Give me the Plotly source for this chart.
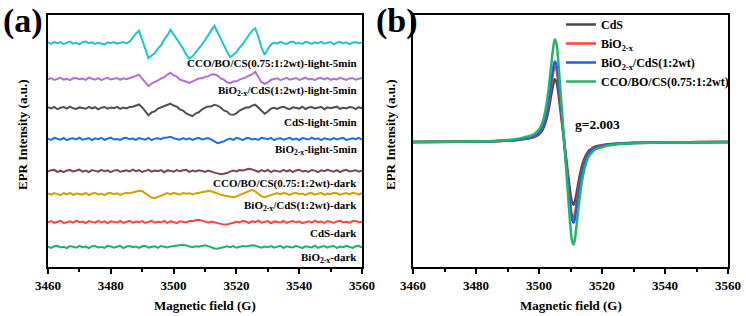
import plotly.graph_objects as go

# ---------------- Panel (a): stacked EPR spectra (1 G steps) ----------------
field_a = list(range(3460, 3561))

cco_light = [0.5, -0.8, 1.2, -0.3, 0.9, -1.1, 0.4, 1.4, -0.6, 0.2, -1.3, 0.8, 1.5, -0.2, 0.6, -0.9, 0.3, -0.5, -1.4, 0.7,
             -0.1, 1.0, -0.7, 0.2, 0.9, -0.4,
             1.3, 5.4, 9.6, 12.2, 2.5, -7.6, -15.2, -12.5, -10.4, -5.6, -2.3, 3.4, 7.6, 13.3, 8.5, 4.4, -1.3, -5.5, -11.4,
             -15.8, -13.3, -9.5, -6.4, -1.6, 2.7, 8.4, 12.6, 17.2, 10.6, 4.5, -3.3, -8.6, -14.2, -11.6, -9.4, -4.6, -1.3,
             3.5, 7.6, 12.4, 14.7, 6.3, -4.6, -11.8, -6.3, -1.6, 0.4,
             -0.6, 1.1, 0.3, -1.2, 0.8, 1.4, -0.4, 0.1, -0.9, 1.2, 0.5, -1.0, 0.7, -0.3, 1.3, -0.7, 0.2, 0.9, -1.3, 0.4,
             1.1, -0.5, 0.6, -1.1, 0.3, 1.0, -0.2, 0.5]
bo_cs_light = [-0.4, 0.9, -1.0, 0.3, 1.2, -0.6, 0.1, -1.2, 0.7, 1.0, -0.3, 0.5, -0.9, 1.3, 0.2, -0.7, 0.8, -1.1, 0.4, 1.1,
               -0.5, 0.0, 0.9, -0.8, 0.6, -0.2, 1.0,
               1.6, 3.2, 4.3, 0.4, -3.6, -7.2, -4.6, -3.3, -1.5, 0.6, 1.7, 4.4, 6.2, 3.6, 2.4, -0.5, -1.6, -3.4, -3.8, -2.4,
               -0.6, 0.5, 0.7, 2.3, 2.6, 4.5, 4.7, 3.4, 0.6, -0.7, -3.3, -4.2, -2.6, -2.3, -0.6, 0.4, 1.6, 3.3, 4.6, 7.2,
               1.7, -3.2, -4.8, -3.4, -0.7, 0.3,
               0.8, -1.1, 0.4, 1.2, -0.6, -0.1, 1.0, -0.9, 0.5, 1.3, -0.4, 0.2, -1.2, 0.7, 0.9, -0.3, 1.1, -0.8, 0.3, -0.5,
               1.2, 0.0, -1.0, 0.6, 0.8, -0.7, 0.4, 1.0]
cds_light = [0.7, -0.5, 1.1, -1.2, 0.2, 0.9, -0.7, 1.4, -0.3, -1.0, 0.6, 0.1, -0.8, 1.2, -0.4, 0.8, -1.3, 0.3, 1.0, -0.6,
             0.5, -0.1, 1.2, -0.9, 0.4, -0.5, 1.0, 1.2,
             2.4, 3.5, 0.6, -3.6, -7.3, -4.4, -3.4, -0.6, 0.5, 1.6, 3.4, 4.3, 2.5, 1.4, -1.3, -2.6, -5.4, -6.6, -8.2, -5.5,
             -4.3, -1.6, 0.4, 1.5, 1.6, 3.3, 2.4, 0.5, -2.5, -3.6, -6.4, -6.8, -5.3, -2.6, -1.4, 0.5, 0.6, 2.4, 3.3, 0.4,
             -3.3, -5.8, -3.5, -0.6, 0.2,
             -0.9, 0.6, 1.3, -0.2, -1.1, 0.8, 0.3, -0.6, 1.2, -1.0, 0.5, 0.9, -0.4, 0.1, 1.1, -1.2, 0.7, -0.3, 0.4, 1.3,
             -0.8, 0.2, -0.5, 1.0, 0.6, -1.1, 0.8, -0.2]
bo_light = [0.3, -0.9, 1.2, 0.5, -0.6, 1.0, -1.2, 0.2, 0.8, -0.4, 1.3, -0.7, 0.1, 0.9, -1.1, 0.6, -0.2, 1.1, -0.8, 0.4,
            1.4, -0.5, 0.0, -1.0, 0.7, 1.2, -0.3, 0.5, -0.9, 1.0, 0.3, -0.6, 1.1, -1.2, 0.4, 0.8, -0.1, 1.3,
            1.6, 2.3, 0.8, 0.2, -0.7, 0.9, -0.4, 0.6, -1.0, 0.3, 1.1, -0.5, 0.4, 0.9, -0.6, -2.3, -4.1, -3.2, -2.4, -0.6,
            0.5, -0.8, 1.2, 0.3, -1.1, 0.7, 1.0, -0.4, 0.2, -0.9, 1.3, 0.6, -0.3, 1.1, -1.2, 0.4, 0.8, -0.6, 0.1, 1.2,
            -0.7, 0.5, -1.0, 0.9, 0.3, -0.5, 1.4, -0.2, 0.6, -1.1, 0.8, 0.2, -0.7, 1.0, -0.4, 0.5, 1.2, -0.9, 0.3, 0.7,
            -0.2, 1.1, -0.6]
cco_dark = [-0.5, 0.8, 1.1, -0.9, 0.3, -1.2, 0.6, 1.0, -0.4, 0.2, 1.3, -0.7, 0.5, -1.0, 0.9, 0.1, -0.6, 1.2, -0.3, 0.7,
            -1.1, 0.4, 1.0, -0.8, 0.2, 0.6, -0.5, 1.3, -0.2, 0.8, -1.0, 0.3, 1.1, -0.7, 0.5, -0.1, 0.9, -1.2, 0.6, 0.2,
            -0.6, 1.0, -0.3, 0.7, 1.2, -0.9, 0.4, -0.4, 0.8, 0.1, -1.0, 0.5, -0.8,
            -1.6, -2.4, -3.2, -2.8, -2.1, -0.6, 0.4, -0.5, 1.0, 0.6, 1.4, 2.2, 1.6, 0.3, -0.8, 0.9, -0.4, 1.1, -1.1, 0.5,
            0.2, -0.7, 1.2, -0.3, 0.8, -1.0, 0.6, 1.3, -0.5, 0.1, -0.9, 1.0, 0.4, -1.2, 0.7, -0.2, 1.1, 0.3, -0.6, 0.9,
            -1.1, 0.5, 1.2, -0.4, 0.0, 0.8, -0.7, 0.6]
bo_cs_dark = [0.6, -0.7, 1.0, 0.2, -1.1, 0.8, -0.3, 1.2, -0.9, 0.4, 0.1, -0.6, 1.1, -1.0, 0.5, 0.9, -0.4, 0.3, -1.2, 0.7,
              1.0, -0.2, 0.6, -0.8, 0.4, 1.2,
              0.8, 1.6, 2.4, 3.2, 2.8, 0.9, -1.6, -3.6, -4.1, -2.8, -1.5, 0.2, 0.9, -0.4, 1.1, 0.3, -0.6, 1.0, 0.2, 0.8,
              -0.5, 0.6, 1.2, 1.6, 2.2, 3.1, 2.7, 1.4, 0.2, -0.6, -1.4, -2.2, -3.1, -3.3, -2.4, -1.0, 0.4, 1.8, 3.2, 4.1,
              2.6, 0.4, -2.4, -3.2, -2.1, -0.8, 0.3,
              0.9, -0.5, 1.1, 0.2, -0.9, 0.6, 1.3, -0.3, 0.4, -1.1, 0.8, 1.0, -0.6, 0.2, 1.2, -0.8, 0.5, -0.2, 1.1, 0.7,
              -1.0, 0.3, 0.9, -0.4, 1.2, 0.6, -0.7, 1.0]
cds_dark = [-0.3, 1.0, -0.8, 0.5, 1.2, -1.1, 0.2, 0.7, -0.6, 1.3, -0.2, 0.4, -1.0, 0.9, 0.1, -0.7, 1.1, -0.4, 0.6, -1.2,
            0.8, 0.3, -0.5, 1.0, -0.9, 0.2, 1.2, -0.6, 0.5, -0.1, 0.9, -1.0, 0.4, 1.1, -0.7, 0.3, -0.3, 1.2, -0.8, 0.6,
            0.0, -1.1, 0.8, 0.4, -0.5, 1.0,
            0.9, 1.8, 2.3, 1.4, 0.2, -0.6, 0.5, -0.3, -1.2, -2.1, -2.6, -2.4, -1.9, -0.8, 0.3,
            -0.4, 1.1, 0.5, -1.0, 0.8, -0.2, 1.3, -0.7, 0.3, 0.9, -1.2, 0.6, 0.1, -0.5, 1.2, -0.9, 0.4, 1.0, -0.3, 0.7,
            -1.1, 0.2, 0.8, -0.6, 1.4, -0.1, 0.5, -0.8, 1.0, 0.3, -1.0, 0.6, 1.2, -0.4, 0.2, -0.7, 0.9, 1.1, -0.5, 0.4]
bo_dark = [0.4, -0.9, 0.7, 1.1, -0.5, 0.2, -1.2, 0.9, 0.3, -0.6, 1.2, -0.2, 0.5, -1.0, 0.8, 1.0, -0.4, 0.1, -0.8, 1.3,
           0.6, -0.7, 0.2, 1.1, -1.1, 0.5, 0.9, -0.3, 0.4, -1.0, 0.7, 1.2, -0.6, 0.0, 0.8, -0.9, 1.0, 0.3, -0.4, 0.6, 1.1,
           0.9, 1.6, 2.3, 1.5, 0.4, -0.3, 0.8, 0.2, 1.0, 1.8, 0.9, -0.6, -1.5, -1.8, -1.2, -0.4, 0.6, -0.2, 0.9, -0.8,
           0.3, 1.0, 0.5, 1.2, 1.8, 1.3, 0.2, -0.7, 0.5, -0.3,
           1.0, -0.6, 0.4, 1.2, -1.0, 0.7, 0.1, -0.5, 1.1, 0.3, -1.2, 0.8, 0.5, -0.4, 1.3, -0.8, 0.2, 0.9, -0.7, 0.6,
           1.0, -1.1, 0.4, -0.2, 1.2, 0.3, -0.9, 0.7, 1.1, -0.5]

series_a = [cco_light, bo_cs_light, cds_light, bo_light, cco_dark, bo_cs_dark, cds_dark, bo_dark]
labels_a = ["CCO/BO/CS(0.75:1:2wt)-light-5min", "BiO<sub>2-x</sub>/CdS(1:2wt)-light-5min", "CdS-light-5min",
            "BiO<sub>2-x</sub>-light-5min", "CCO/BO/CS(0.75:1:2wt)-dark", "BiO<sub>2-x</sub>/CdS(1:2wt)-dark",
            "CdS-dark", "BiO<sub>2-x</sub>-dark"]
offsets_a = [224, 188, 159, 128, 96, 73, 45, 20]
label_y_a = [204, 176, 145, 117, 84, 61, 34, 9]
colors_a = ["#1fc6c6", "#b070dc", "#505050", "#1a6ee8", "#7a4848", "#d4a000", "#ff4444", "#22b06a"]

for s in series_a:
    assert len(s) == len(field_a), len(s)

# ---------------- Panel (b): EPR derivative spectra ----------------
field_b = [3460, 3470, 3480, 3485, 3490, 3492, 3494, 3496, 3498, 3499, 3500, 3501, 3502, 3503, 3503.5, 3504, 3504.5,
           3505, 3505.5, 3506, 3506.5, 3507, 3507.5, 3508, 3508.5, 3509, 3509.5, 3510, 3510.5, 3511, 3511.5, 3512,
           3513, 3514, 3515, 3516, 3517, 3518, 3520, 3522, 3525, 3530, 3540, 3550, 3560]
cds_b = [0, 0.1, 0.3, 0.6, 1.3, 1.6, 2.2, 3.2, 4.4, 5.7, 7.6, 11.3, 18.9, 31.5, 40.3, 49.1, 57.3, 62.7, 60.5, 52.3,
         39.7, 26.5, 13.2, 0, -13.2, -26.5, -39.7, -52.3, -60.5, -62.7, -58.0, -49.8, -32.8, -20.2, -12.6, -8.2, -6.0,
         -4.4, -3.2, -2.2, -1.4, -0.8, -0.3, -0.1, 0]
bio_b = [0, 0.2, 0.4, 0.8, 1.5, 1.9, 2.7, 3.8, 5.3, 6.8, 9.1, 13.7, 22.8, 38.0, 48.6, 59.3, 69.2, 75.6, 73.0, 63.1,
         47.9, 31.9, 16.0, 0, -16.0, -31.9, -47.9, -63.1, -73.0, -75.6, -69.9, -60.0, -39.5, -24.3, -15.2, -9.9, -7.2,
         -5.3, -3.8, -2.7, -1.7, -0.9, -0.4, -0.2, 0]
bio_cds_b = [0, 0.2, 0.4, 0.8, 1.6, 2.0, 2.8, 4.1, 5.7, 7.3, 9.7, 14.6, 24.3, 40.5, 51.8, 63.2, 73.7, 80.6, 77.8, 67.2,
             51.0, 34.0, 17.0, 0, -17.0, -34.0, -51.0, -67.2, -77.8, -80.6, -74.5, -64.0, -42.1, -25.9, -16.2, -10.5,
             -7.7, -5.7, -4.1, -2.8, -1.8, -1.0, -0.4, -0.2, 0]
cco_b = [0, 0.2, 0.5, 1.0, 2.1, 2.6, 3.6, 5.2, 7.2, 9.3, 12.4, 18.5, 30.9, 51.5, 65.9, 80.3, 93.7, 102.5, 98.9, 85.5,
         64.9, 43.3, 21.6, 0, -21.6, -43.3, -64.9, -85.5, -98.9, -102.5, -94.8, -81.4, -53.6, -33.0, -20.6, -13.4,
         -9.8, -7.2, -5.2, -3.6, -2.3, -1.2, -0.5, -0.2, 0]
series_b = [cds_b, bio_b, bio_cds_b, cco_b]
names_b = ["CdS", "BiO<sub>2-x</sub>", "BiO<sub>2-x</sub>/CdS(1:2wt)", "CCO/BO/CS(0.75:1:2wt)"]
colors_b = ["#4a4a4a", "#ff4040", "#1f5fe6", "#27b36a"]
for s in series_b:
    assert len(s) == len(field_b), len(s)

FONT = "Liberation Serif, Times New Roman, serif"
W, H = 746, 316

fig = go.Figure()
for s, off, c in zip(series_a, offsets_a, colors_a):
    fig.add_trace(go.Scatter(x=field_a, y=[v + off for v in s], mode="lines",
                             line=dict(color=c, width=2), showlegend=False,
                             xaxis="x", yaxis="y", hoverinfo="skip"))
for s, n, c in zip(series_b, names_b, colors_b):
    fig.add_trace(go.Scatter(x=field_b, y=s, mode="lines", name=n,
                             line=dict(color=c, width=2.5, shape="spline"),
                             xaxis="x2", yaxis="y2"))

ydom = [1 - 267 / H, 1 - 15 / H]
xax = dict(range=[3460, 3560], tickvals=[3460, 3480, 3500, 3520, 3540, 3560], ticks="outside", ticklen=5,
           tickwidth=1.5, tickcolor="black", minor=dict(dtick=10, tick0=3460, ticks="outside", ticklen=3,
                                                          tickwidth=1.5, tickcolor="black"),
           showline=True, linecolor="black", linewidth=2, mirror=True, showgrid=False, zeroline=False,
           tickfont=dict(family=FONT, size=13, color="black", weight="bold"))
yax = dict(showticklabels=False, ticks="", showline=True, linecolor="black", linewidth=2, mirror=True,
           showgrid=False, zeroline=False, domain=ydom)

fig.update_layout(
    width=W, height=H, margin=dict(l=0, r=0, t=0, b=0, autoexpand=False),
    paper_bgcolor="white", plot_bgcolor="white",
    xaxis=dict(xax, domain=[48 / W, 362 / W], anchor="y"),
    yaxis=dict(yax, range=[0, 252], anchor="x"),
    xaxis2=dict(xax, domain=[413 / W, 728 / W], anchor="y2"),
    yaxis2=dict(yax, range=[-125, 127], anchor="x2"),
    legend=dict(x=561 / W, y=1 - 10 / H, xanchor="left", yanchor="top", bgcolor="rgba(0,0,0,0)",
                font=dict(family=FONT, size=12, color="black", weight="bold"), tracegroupgap=0,
                itemwidth=30, borderwidth=0),
    showlegend=True,
)

ann = []
for lab, ly in zip(labels_a, label_y_a):
    ann.append(dict(text=lab, x=3559, y=ly, xref="x", yref="y", xanchor="right", yanchor="middle",
                    showarrow=False, font=dict(family=FONT, size=11, color="black", weight="bold")))
tfont = dict(family=FONT, size=13, color="black", weight="bold")
for cx in [(48 + 362) / 2 / W, (413 + 728) / 2 / W]:
    ann.append(dict(text="Magnetic field (G)", x=cx, y=1 - 305 / H, xref="paper", yref="paper",
                    xanchor="center", yanchor="middle", showarrow=False, font=tfont))
for cx in [22 / W, 390 / W]:
    ann.append(dict(text="EPR Intensity (a.u.)", x=cx, y=1 - 135 / H, xref="paper", yref="paper",
                    xanchor="center", yanchor="middle", textangle=-90, showarrow=False, font=tfont))
pfont = dict(family=FONT, size=34, color="black", weight="bold")
ann.append(dict(text="(a)", x=23 / W, y=1 - 21 / H, xref="paper", yref="paper", xanchor="center",
                yanchor="middle", showarrow=False, font=pfont))
ann.append(dict(text="(b)", x=397 / W, y=1 - 21 / H, xref="paper", yref="paper", xanchor="center",
                yanchor="middle", showarrow=False, font=pfont))
ann.append(dict(text="g=2.003", x=597 / W, y=1 - 124 / H, xref="paper", yref="paper", xanchor="center",
                yanchor="middle", showarrow=False, font=dict(family=FONT, size=13.5, color="black", weight="bold")))
fig.update_layout(annotations=ann)

fig.write_html("out.html")
